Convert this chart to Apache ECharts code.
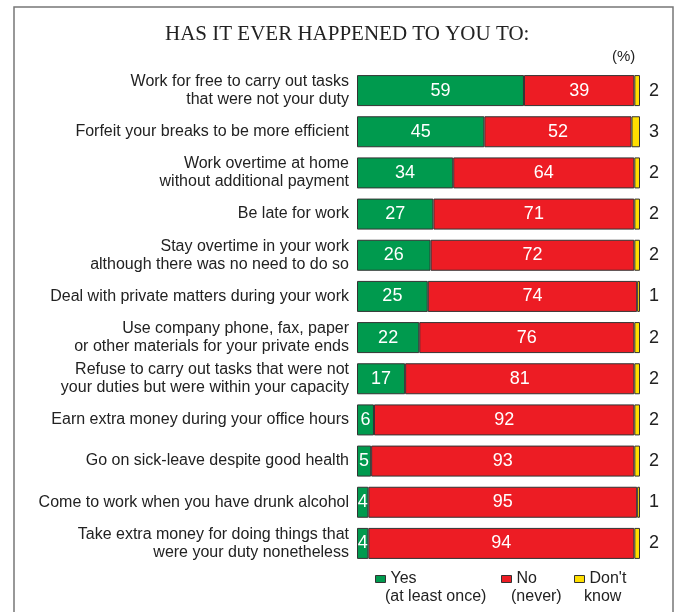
<!DOCTYPE html>
<html>
<head>
<meta charset="utf-8">
<script src="https://cdn.jsdelivr.net/npm/echarts@6/dist/echarts.min.js"></script>
<style>
    html, body { margin: 0; padding: 0; background: #fff; }
    #chart { width: 677px; height: 612px; }
</style>
</head>
<body>
<div id="chart"></div>
<script>
// questions, top to bottom
var categories = [
    'Work for free to carry out tasks\nthat were not your duty',
    'Forfeit your breaks to be more efficient',
    'Work overtime at home\nwithout additional payment',
    'Be late for work',
    'Stay overtime in your work\nalthough there was no need to do so',
    'Deal with private matters during your work',
    'Use company phone, fax, paper\nor other materials for your private ends',
    'Refuse to carry out tasks that were not\nyour duties but were within your capacity',
    'Earn extra money during your office hours',
    'Go on sick-leave despite good health',
    'Come to work when you have drunk alcohol',
    'Take extra money for doing things that\nwere your duty nonetheless'
];
var yesValues = [59, 45, 34, 27, 26, 25, 22, 17, 6, 5, 4, 4];
var noValues = [39, 52, 64, 71, 72, 74, 76, 81, 92, 93, 95, 94];
var dkValues = [2, 3, 2, 2, 2, 1, 2, 2, 2, 2, 1, 2];

var legendNames = ['Yes', 'No', "Don't"];
var legendSecond = ['(at least once)', '(never)', 'know'];

var chart = echarts.init(document.getElementById('chart'));

var GREEN = '#009a4e', RED = '#ed1c24', YELLOW = '#ffde00';

function barSeries(name, data, color, inside) {
    return {
        name: name,
        type: 'bar',
        stack: 'all',
        data: data,
        barWidth: 31,
        itemStyle: { color: color, borderColor: '#333', borderWidth: 1 },
        label: inside ? {
            show: true,
            position: 'inside',
            color: '#fff',
            fontSize: 18,
            fontFamily: 'Liberation Sans'
        } : {
            show: true,
            position: 'right',
            distance: 9,
            color: '#222',
            fontSize: 18,
            fontFamily: 'Liberation Sans'
        },
        emphasis: { disabled: true }
    };
}

var legendX = [370, 496, 569];

var option = {
    animation: false,
    backgroundColor: '#fff',
    title: {
        text: 'HAS IT EVER HAPPENED TO YOU TO:',
        left: 160,
        top: 19,
        textStyle: {
            fontFamily: 'Liberation Serif',
            fontWeight: 'normal',
            fontSize: 21,
            color: '#222'
        }
    },
    legend: legendNames.map(function (n, i) {
        return {
            data: [n],
            left: legendX[i],
            top: 566,
            icon: 'rect',
            itemWidth: 10,
            itemHeight: 7,
            selectedMode: false,
            itemStyle: { borderColor: '#333', borderWidth: 1 },
            textStyle: { fontSize: 16, color: '#222', fontFamily: 'Liberation Sans', lineHeight: 16 }
        };
    }),
    grid: { left: 357, right: 37, top: 70, height: 494 },
    xAxis: { type: 'value', min: 0, max: 100, show: false },
    yAxis: {
        type: 'category',
        inverse: true,
        data: categories,
        axisLine: { show: false },
        axisTick: { show: false },
        axisLabel: {
            margin: 8,
            color: '#222',
            fontSize: 16,
            lineHeight: 18,
            fontFamily: 'Liberation Sans',
            align: 'right'
        }
    },
    series: [
        barSeries(legendNames[0], yesValues, GREEN, true),
        barSeries(legendNames[1], noValues, RED, true),
        barSeries(legendNames[2], dkValues, YELLOW, false)
    ],
    graphic: [
        {
            type: 'rect',
            shape: { x: 14, y: 7, width: 659, height: 640 },
            style: { fill: 'none', stroke: '#777', lineWidth: 1.5 },
            silent: true
        },
        {
            type: 'text',
            left: 612,
            top: 49,
            style: { text: '(%)', fontSize: 15, fill: '#222', fontFamily: 'Liberation Sans' }
        }
    ].concat(legendSecond.map(function (t, i) {
        return {
            type: 'text',
            left: legendX[i] + 15,
            top: 589,
            style: { text: t, fontSize: 16, fill: '#222', fontFamily: 'Liberation Sans' }
        };
    }))
};

chart.setOption(option);
</script>
</body>
</html>
